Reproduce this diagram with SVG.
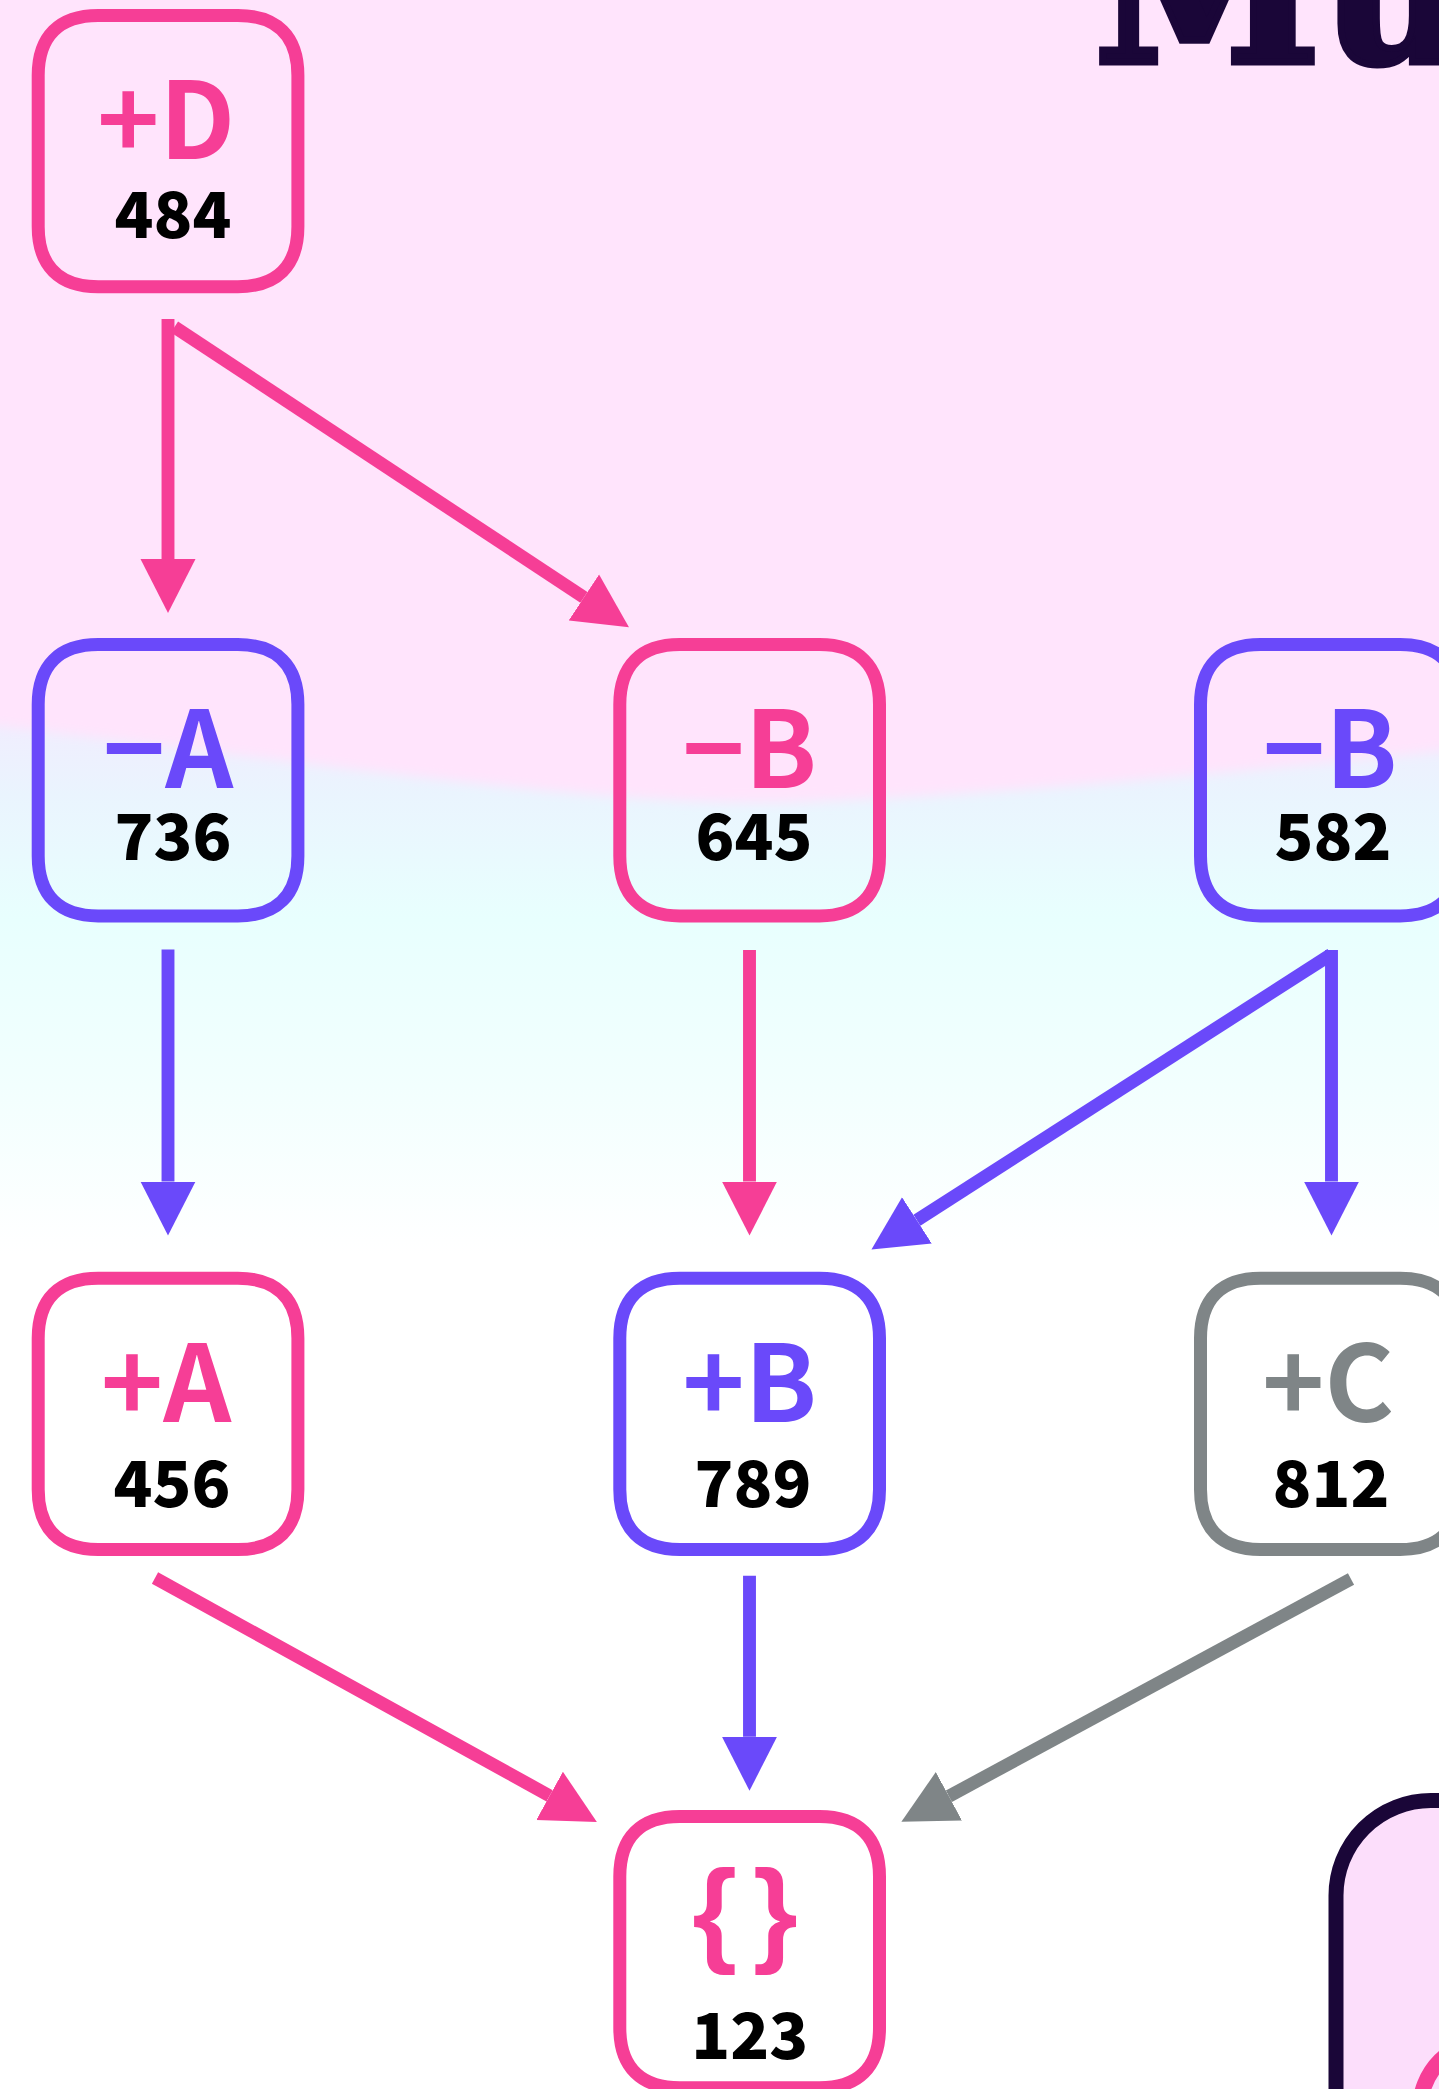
<svg xmlns="http://www.w3.org/2000/svg" width="1439" height="2089" viewBox="0 0 1439 2089">
<defs>
<linearGradient id="bg" x1="0" y1="0" x2="0" y2="2089" gradientUnits="userSpaceOnUse">
<stop offset="0" stop-color="#FFE4FC"/>
<stop offset="0.33" stop-color="#F3EAFE"/>
<stop offset="0.38" stop-color="#EAF4FE"/>
<stop offset="0.44" stop-color="#E8FFFE"/>
<stop offset="0.52" stop-color="#F2FFFE"/>
<stop offset="0.6" stop-color="#FFFFFF"/>
<stop offset="1" stop-color="#FFFFFF"/>
</linearGradient>
<filter id="soft" x="-5%" y="-5%" width="110%" height="110%"><feGaussianBlur stdDeviation="6"/></filter>
<path id="box" d="M60,0 H199.7 C238.7,0 259.7,21 259.7,60 V211.3 C259.7,250.3 238.7,271.3 199.7,271.3 H60 C21,271.3 0,250.3 0,211.3 V60 C0,21 21,0 60,0 Z"/>
<marker id="ah-pk" viewBox="0 -28 56 56" refX="0" refY="0" markerWidth="56" markerHeight="56" markerUnits="userSpaceOnUse" orient="auto"><path d="M0,-27.5 L54,0 L0,27.5 Z" fill="#F63E96"/></marker>
<marker id="ah-pu" viewBox="0 -28 56 56" refX="0" refY="0" markerWidth="56" markerHeight="56" markerUnits="userSpaceOnUse" orient="auto"><path d="M0,-27.5 L54,0 L0,27.5 Z" fill="#6A49FA"/></marker>
<marker id="ah-gy" viewBox="0 -28 56 56" refX="0" refY="0" markerWidth="56" markerHeight="56" markerUnits="userSpaceOnUse" orient="auto"><path d="M0,-27.5 L54,0 L0,27.5 Z" fill="#7F8587"/></marker>
</defs>
<style>
.bx{fill:none;stroke-width:13}
.pk{stroke:#F63E96}
.pu{stroke:#6A49FA}
.gy{stroke:#7F8587}
.tpk{fill:#F63E96}
.tpu{fill:#6A49FA}
.tgy{fill:#7F8587}
.lbl{font-family:"Noto Sans CJK JP","Noto Sans",sans-serif;font-weight:700;font-size:106px;text-anchor:middle}
.brace{font-family:"Liberation Sans",Arial,sans-serif;font-weight:700;font-size:115px;text-anchor:middle;word-spacing:-16px}
.num{font-family:"Noto Sans CJK JP","Noto Sans",sans-serif;font-weight:900;font-size:64px;text-anchor:middle;fill:#000}
.e{fill:none;stroke-width:12.9;stroke-linecap:butt}
.epk{stroke:#F63E96;marker-end:url(#ah-pk)}
.epu{stroke:#6A49FA;marker-end:url(#ah-pu)}
.egy{stroke:#7F8587;marker-end:url(#ah-gy)}
</style>
<g id="background">
<rect width="1439" height="2089" fill="url(#bg)"/>
<path d="M-30,-30 H1470 V748 C1250,770 1000,795 800,802 C600,808 300,760 -30,722 Z" fill="#FFE4FC" filter="url(#soft)"/>
</g>
<g id="title">
<text x="1094" y="62" font-family="DejaVu Serif" font-weight="700" font-size="205" fill="#1A0638" stroke="#1A0638" stroke-width="7" stroke-linejoin="miter">Mu</text>
</g>
<g id="card">
<rect x="1336" y="1800.5" width="320" height="400" rx="95" fill="#FCDEFB" stroke="#1A0638" stroke-width="15"/>
<circle cx="1490" cy="2110" r="70" fill="none" stroke="#F63E96" stroke-width="16"/>
</g>
<g id="connectors">
<line class="e epk" x1="168" y1="319" x2="168" y2="559"/>
<line class="e epk" x1="174.5" y1="327" x2="583.9" y2="597.4"/>
<line class="e epu" x1="168" y1="949.5" x2="168" y2="1181.6"/>
<line class="e epk" x1="749.5" y1="950" x2="749.5" y2="1181.6"/>
<line class="e epu" x1="1331" y1="954.5" x2="916.9" y2="1220.3"/>
<line class="e epu" x1="1331.5" y1="950" x2="1331.5" y2="1181.6"/>
<line class="e epk" x1="155" y1="1578" x2="549.6" y2="1795.8"/>
<line class="e epu" x1="749.5" y1="1575.8" x2="749.5" y2="1736.8"/>
<line class="e egy" x1="1351" y1="1579" x2="948.9" y2="1796.2"/>
</g>
<g id="n-plusD">
<use href="#box" x="38.2" y="15.4" class="bx pk"/>
<text class="lbl tpk" x="166" y="158.9">+D</text>
<text class="num" x="173" y="237.5">484</text>
</g>
<g id="n-minusA">
<use href="#box" x="38.2" y="644.6" class="bx pu"/>
<text class="lbl tpu" x="168" y="788.3">−A</text>
<text class="num" x="173" y="860">736</text>
</g>
<g id="n-minusB-645">
<use href="#box" x="619.8" y="644.6" class="bx pk"/>
<text class="lbl tpk" x="749.7" y="788.3">−B</text>
<text class="num" x="754" y="860">645</text>
</g>
<g id="n-minusB-582">
<use href="#box" x="1200.5" y="644.6" class="bx pu"/>
<text class="lbl tpu" x="1330" y="788.3">−B</text>
<text class="num" x="1333" y="860">582</text>
</g>
<g id="n-plusA">
<use href="#box" x="38.2" y="1278.2" class="bx pk"/>
<text class="lbl tpk" x="166" y="1421.7">+A</text>
<text class="num" x="172" y="1506.5">456</text>
</g>
<g id="n-plusB">
<use href="#box" x="619.8" y="1278.2" class="bx pu"/>
<text class="lbl tpu" x="749.7" y="1421.7">+B</text>
<text class="num" x="753" y="1506.5">789</text>
</g>
<g id="n-plusC">
<use href="#box" x="1200.5" y="1278.2" class="bx gy"/>
<text class="lbl tgy" x="1328" y="1421.7">+C</text>
<text class="num" x="1331" y="1506.5">812</text>
</g>
<g id="n-merge">
<use href="#box" x="619.8" y="1816.5" class="bx pk"/>
<text class="brace tpk" x="745" y="1951">{ }</text>
<text class="num" x="749.7" y="2059.3">123</text>
</g>
</svg>
